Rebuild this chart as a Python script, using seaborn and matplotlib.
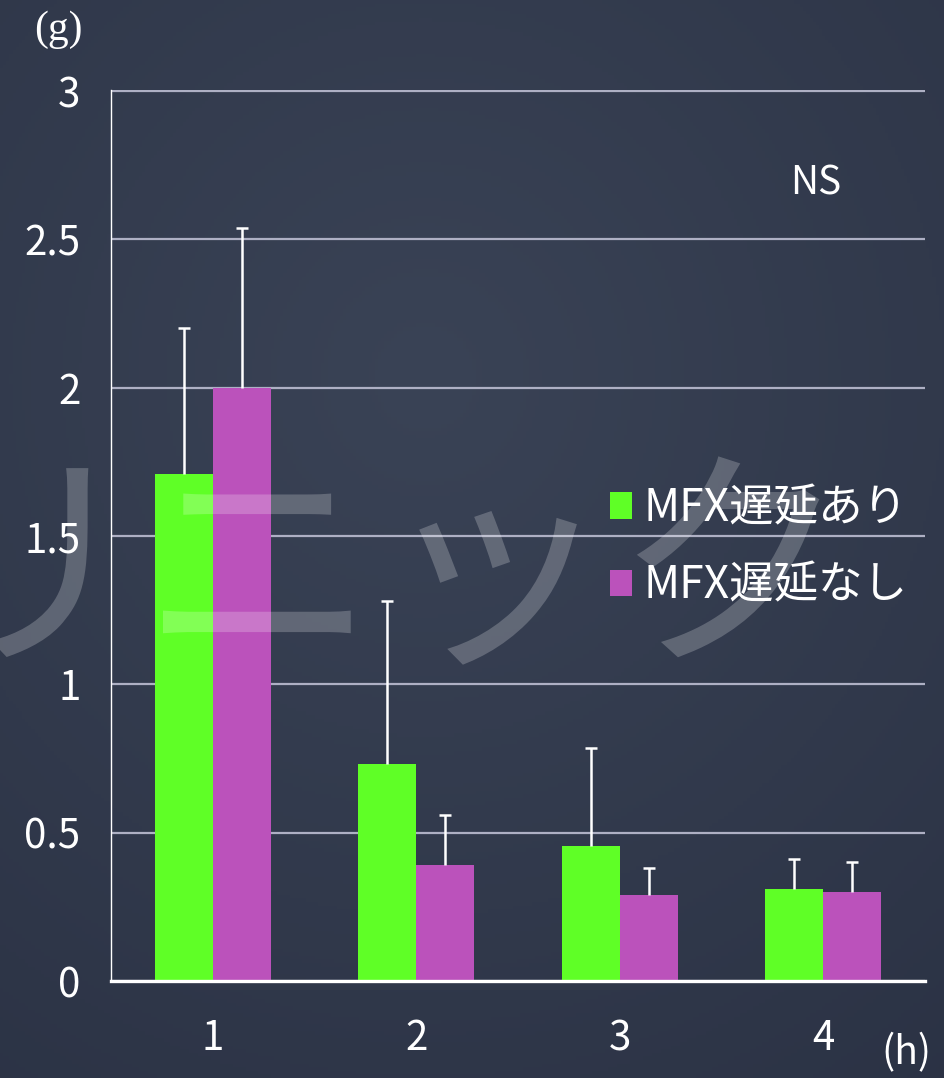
import numpy as np
import pandas as pd
import matplotlib
matplotlib.use("Agg")
import matplotlib.pyplot as plt
import seaborn as sns
from matplotlib.patches import Patch

# Time after dose (h)
hours = ["1", "2", "3", "4"]
groups = ["MFX遅延あり", "MFX遅延なし"]
# Mean amount (g) and SD per group
mean_delay = [1.71, 0.73, 0.455, 0.31]
sd_delay = [0.49, 0.55, 0.33, 0.10]
mean_nodelay = [2.0, 0.39, 0.29, 0.30]
sd_nodelay = [0.54, 0.17, 0.09, 0.10]
y_ticks = [0, 0.5, 1, 1.5, 2, 2.5, 3]
y_tick_labels = ["0", "0.5", "1", "1.5", "2", "2.5", "3"]

colors = ["#5fff26", "#bb52bb"]
bg_dark = "#2f374b"

df = pd.DataFrame({
    "hour": hours * 2,
    "group": [groups[0]] * 4 + [groups[1]] * 4,
    "value": mean_delay + mean_nodelay,
    "sd": sd_delay + sd_nodelay,
})

sns.set_theme(style="white")
plt.rcParams["font.family"] = ["Noto Sans CJK JP", "DejaVu Sans"]

fig = plt.figure(figsize=(9.45, 10.78), dpi=100)
fig.patch.set_facecolor(bg_dark)

# soft slate backdrop, slightly lighter toward the upper middle
bg_ax = fig.add_axes([0, 0, 1, 1], zorder=-10)
yy, xx = np.mgrid[0:1:300j, 0:1:300j]
r = np.sqrt(((xx - 0.45) / 1.1) ** 2 + ((yy - 0.35) / 1.0) ** 2)
shade = np.clip(1 - r, 0, 1)
c0 = np.array([40, 47, 65]) / 255
c1 = np.array([58, 67, 86]) / 255
img = c0[None, None, :] + (c1 - c0)[None, None, :] * shade[..., None]
bg_ax.imshow(img, extent=[0, 1, 0, 1], aspect="auto", origin="upper")
bg_ax.axis("off")

ax = fig.add_axes([111 / 945, 1 - 981 / 1078, 814 / 945, 891 / 1078])
ax.set_facecolor("none")

sns.barplot(data=df, x="hour", y="value", hue="group", order=hours,
            hue_order=groups, palette=colors, width=0.57, errorbar=None,
            saturation=1, ax=ax, legend=False, linewidth=0)

# one-sided (upper) SD bars from the bar tops
bars = [p for p in ax.patches if p.get_height() > 0]
for gi, g in enumerate(groups):
    sub = df[df["group"] == g]
    gb = bars[gi * len(hours):(gi + 1) * len(hours)]
    xs = [b.get_x() + b.get_width() / 2 for b in gb]
    eb = ax.errorbar(xs, sub["value"].values,
                     yerr=[np.zeros(len(sub)), sub["sd"].values],
                     fmt="none", ecolor="white", elinewidth=1.8,
                     capsize=4.5, capthick=1.8, zorder=5)
    # only the upper cap is shown
    eb[1][0].set_visible(False)

ax.set_ylim(0, 3.004)
ax.set_xlim(-0.5, 3.5)
ax.set_yticks(y_ticks)
ax.set_yticklabels(y_tick_labels)
ax.yaxis.grid(True, color="#aeb0c4", linewidth=1.6)
ax.xaxis.grid(False)
ax.set_axisbelow(True)
ax.tick_params(axis="y", length=0, pad=22, labelsize=29, labelcolor="white")
ax.tick_params(axis="x", length=0, pad=27, labelsize=29, labelcolor="white")
ax.set_xlabel("")
ax.set_ylabel("")
for s in ["top", "right"]:
    ax.spines[s].set_visible(False)
ax.spines["left"].set_color("white")
ax.spines["left"].set_linewidth(1.0)
ax.spines["bottom"].set_color("white")
ax.spines["bottom"].set_linewidth(2.4)

handles = [Patch(facecolor=c, edgecolor="none") for c in colors]
leg = ax.legend(handles, groups, loc="upper left",
                bbox_to_anchor=(0.613, 0.556), frameon=False,
                fontsize=32, handlelength=0.5, handleheight=0.55,
                handletextpad=0.25, labelspacing=0.7, borderaxespad=0,
                borderpad=0)
for t in leg.get_texts():
    t.set_color("white")

ax.text(0.866, 0.895, "NS", transform=ax.transAxes, color="white",
        fontsize=28, ha="center", va="center")

fig.text(58 / 945, 1 - 30 / 1078, "(g)", color="white", fontsize=30,
         family=["Liberation Serif", "DejaVu Serif"], ha="center", va="center")
fig.text(906 / 945, 1 - 1053 / 1078, "(h)", color="white", fontsize=28,
         ha="center", va="center")

# faint watermark lettering across the chart
fig.text(-330 / 945, 1 - 580 / 1078, "クリニック", color="white", alpha=0.22,
         fontsize=170, family=["Noto Sans CJK JP"], ha="left", va="center",
         zorder=20)

fig.savefig("out.png", dpi=100, facecolor=fig.get_facecolor())
